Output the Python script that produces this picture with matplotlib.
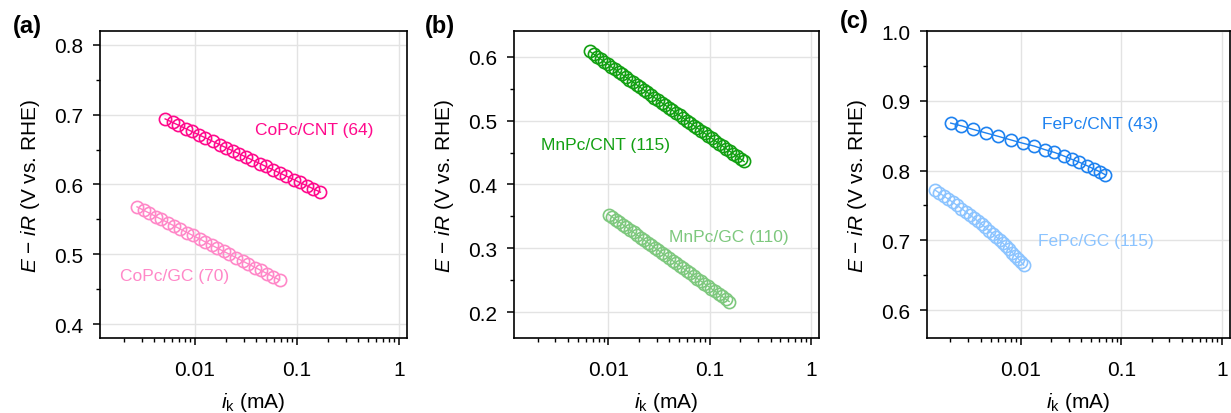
import matplotlib
matplotlib.use('Agg')
import matplotlib.pyplot as plt
from matplotlib.ticker import LogLocator, NullFormatter, FixedLocator, MultipleLocator

plt.rcParams['font.family'] = ['Liberation Sans', 'DejaVu Sans']
plt.rcParams['mathtext.fontset'] = 'custom'
plt.rcParams['mathtext.rm'] = 'Liberation Sans'
plt.rcParams['mathtext.it'] = 'Liberation Sans:italic'

# (a) CoPc
copc_cnt_i = [0.00510, 0.00603, 0.00689, 0.00814, 0.00931, 0.0110, 0.0126, 0.0149,
              0.0175, 0.0200, 0.0237, 0.0271, 0.0320, 0.0366, 0.0432, 0.0494,
              0.0583, 0.0689, 0.0788, 0.0931, 0.106, 0.126, 0.144, 0.170]
copc_cnt_e = [0.694, 0.689, 0.685, 0.680, 0.676, 0.671, 0.667, 0.662,
              0.657, 0.653, 0.648, 0.644, 0.639, 0.635, 0.630, 0.626,
              0.621, 0.616, 0.612, 0.607, 0.603, 0.598, 0.594, 0.589]
copc_gc_i = [0.00270, 0.00315, 0.00356, 0.00415, 0.00469, 0.00547, 0.00618, 0.00721,
             0.00840, 0.00950, 0.0111, 0.0125, 0.0146, 0.0165, 0.0192, 0.0218,
             0.0254, 0.0296, 0.0334, 0.0390, 0.0441, 0.0514, 0.0581, 0.0678]
copc_gc_e = [0.568, 0.563, 0.559, 0.554, 0.550, 0.545, 0.541, 0.536,
             0.531, 0.527, 0.522, 0.518, 0.513, 0.509, 0.504, 0.500,
             0.495, 0.490, 0.486, 0.481, 0.477, 0.472, 0.468, 0.463]

# (b) MnPc
mnpc_cnt_i = [0.00658, 0.00714, 0.00775, 0.00840, 0.00912, 0.00989, 0.01073, 0.01164,
              0.01263, 0.01370, 0.01486, 0.01612, 0.01749, 0.01898, 0.02059, 0.02234,
              0.02424, 0.02629, 0.02852, 0.03095, 0.03357, 0.03642, 0.03952, 0.04287,
              0.04651, 0.05046, 0.05474, 0.05939, 0.06443, 0.06990, 0.07584, 0.08228,
              0.08926, 0.09684, 0.1051, 0.1140, 0.1237, 0.1342, 0.1456, 0.1579,
              0.1713, 0.1859, 0.2017, 0.2188]
mnpc_cnt_e = [0.608, 0.604, 0.600, 0.596, 0.592, 0.588, 0.584, 0.580,
              0.576, 0.572, 0.568, 0.564, 0.560, 0.556, 0.552, 0.548,
              0.544, 0.540, 0.536, 0.532, 0.528, 0.524, 0.520, 0.516,
              0.512, 0.508, 0.504, 0.500, 0.496, 0.492, 0.488, 0.484,
              0.480, 0.476, 0.472, 0.468, 0.464, 0.460, 0.456, 0.452,
              0.448, 0.444, 0.440, 0.436]
mnpc_gc_i = [0.0101, 0.01095, 0.01186, 0.01286, 0.01394, 0.01510, 0.01637, 0.01774,
             0.01923, 0.02084, 0.02259, 0.02448, 0.02653, 0.02875, 0.03116, 0.03377,
             0.03660, 0.03967, 0.04299, 0.04660, 0.05050, 0.05473, 0.05932, 0.06429,
             0.06968, 0.07552, 0.08185, 0.08870, 0.09614, 0.1042, 0.1129, 0.1224,
             0.1327, 0.1438, 0.1558]
mnpc_gc_e = [0.353, 0.349, 0.345, 0.341, 0.337, 0.333, 0.329, 0.325,
             0.321, 0.317, 0.313, 0.309, 0.305, 0.301, 0.297, 0.293,
             0.289, 0.285, 0.281, 0.277, 0.273, 0.269, 0.265, 0.261,
             0.257, 0.253, 0.249, 0.245, 0.241, 0.237, 0.233, 0.229,
             0.225, 0.221, 0.217]

# (c) FePc
fepc_cnt_i = [0.00201, 0.00257, 0.00335, 0.00447, 0.00597, 0.00791, 0.01055, 0.01365,
              0.01729, 0.02155, 0.02666, 0.03223, 0.03808, 0.04539, 0.05362, 0.06150,
              0.06893]
fepc_cnt_e = [0.868, 0.864, 0.859, 0.854, 0.849, 0.844, 0.839, 0.835,
              0.830, 0.826, 0.821, 0.816, 0.812, 0.807, 0.802, 0.798,
              0.794]
fepc_gc_i = [0.001387, 0.001545, 0.001717, 0.001906, 0.002110, 0.002333, 0.002572,
             0.002829, 0.003110, 0.003410, 0.003733, 0.004074, 0.004446, 0.004831,
             0.005245, 0.005681, 0.006142, 0.006624, 0.007142, 0.007674, 0.008236,
             0.008812, 0.009418, 0.01005, 0.01069]
fepc_gc_e = [0.7725, 0.7680, 0.7635, 0.7590, 0.7545, 0.7500, 0.7455, 0.7410,
             0.7365, 0.7320, 0.7275, 0.7230, 0.7185, 0.7140, 0.7095, 0.7050,
             0.7005, 0.6960, 0.6915, 0.6870, 0.6825, 0.6780, 0.6735, 0.6690,
             0.6645]

panels = [
    dict(tag='(a)', ylim=(0.38, 0.82), yticks=[0.4, 0.5, 0.6, 0.7, 0.8], fmt='%.1f',
         series=[(copc_cnt_i, copc_cnt_e, '#FF0A8C', 'CoPc/CNT (64)', (0.0388, 0.679)),
                 (copc_gc_i, copc_gc_e, '#FF88C8', 'CoPc/GC (70)', (0.00184, 0.470))]),
    dict(tag='(b)', ylim=(0.16, 0.64), yticks=[0.2, 0.3, 0.4, 0.5, 0.6], fmt='%.1f',
         series=[(mnpc_cnt_i, mnpc_cnt_e, '#12A012', 'MnPc/CNT (115)', (0.00217, 0.4625)),
                 (mnpc_gc_i, mnpc_gc_e, '#7EC87E', 'MnPc/GC (110)', (0.0394, 0.319))]),
    dict(tag='(c)', ylim=(0.56, 1.0), yticks=[0.6, 0.7, 0.8, 0.9, 1.0], fmt='%.1f',
         series=[(fepc_cnt_i, fepc_cnt_e, '#1E82F0', 'FePc/CNT (43)', (0.01615, 0.867)),
                 (fepc_gc_i, fepc_gc_e, '#8CC4FF', 'FePc/GC (115)', (0.0147, 0.700))]),
]

fig = plt.figure(figsize=(12.31, 4.14), dpi=100)
lefts = [0.0812, 0.4175, 0.7531]
widths = [0.2494, 0.2478, 0.2461]
tag_pos = [(0.022, 0.935), (0.357, 0.935), (0.694, 0.948)]

for p, left, w, tp in zip(panels, lefts, widths, tag_pos):
    ax = fig.add_axes([left, 0.1812, w, 0.7415])
    for xs, ys, col, lab, pos in p['series']:
        ax.plot(xs, ys, '-o', color=col, lw=1.0, ms=8.8, mfc='none', mew=1.2)
        ax.text(pos[0], pos[1], lab, color=col, fontsize=12.5, ha='left', va='center')
    ax.set_xscale('log')
    ax.set_xlim(0.00117, 1.2)
    ax.set_ylim(*p['ylim'])
    ax.xaxis.set_major_locator(FixedLocator([0.01, 0.1, 1]))
    ax.set_xticklabels(['0.01', '0.1', '1'])
    ax.xaxis.set_minor_locator(LogLocator(base=10, subs=range(2, 10)))
    ax.xaxis.set_minor_formatter(NullFormatter())
    ax.set_yticks(p['yticks'])
    ax.set_yticklabels([p['fmt'] % v for v in p['yticks']])
    ax.yaxis.set_minor_locator(MultipleLocator(0.05))
    ax.grid(True, which='major', color='#E3E3E3', lw=1.0)
    ax.set_axisbelow(True)
    ax.tick_params(which='major', direction='out', length=5, width=1.1, labelsize=15)
    ax.tick_params(axis='y', which='major', pad=7)
    ax.tick_params(axis='x', which='major', pad=11)
    ax.tick_params(which='minor', direction='out', length=3, width=1.0)
    for s in ax.spines.values():
        s.set_linewidth(1.2)
    ax.set_xlabel(r'$i_\mathrm{k}$ (mA)', fontsize=15, labelpad=8)
    ax.set_ylabel(r'$E$ $-$ $iR$ (V vs. RHE)', fontsize=15, labelpad=9)
    fig.text(tp[0], tp[1], p['tag'], fontsize=17, fontweight='bold', ha='center', va='center')

fig.savefig('out.png', dpi=100)
